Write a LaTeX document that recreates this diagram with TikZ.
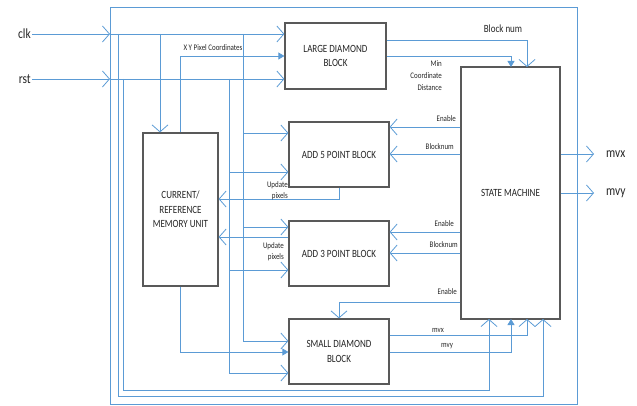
\documentclass[tikz,border=0pt]{standalone}
\usepackage{fontspec}
\setmainfont[FakeStretch=0.82]{Carlito}
\usetikzlibrary{arrows.meta}
\definecolor{wireblue}{HTML}{5B9BD5}
\definecolor{boxgrey}{HTML}{595959}
\definecolor{inkgrey}{HTML}{262626}
\tikzset{
  blockbox/.style={draw=boxgrey, line width=1.2pt, fill=white, align=center,
    text=inkgrey, font=\fontsize{11}{14.5}\selectfont, inner sep=0pt},
  wire/.style={draw=wireblue, line width=0.8pt},
  opentip/.style={wire, -{Straight Barb[length=7pt,width=16pt,line width=0.8pt]}},
  solidtip/.style={wire, -{Triangle[length=6pt,width=7pt]}},
  smalllbl/.style={text=inkgrey, font=\fontsize{8.5}{12}\selectfont, inner sep=0pt},
  iolbl/.style={text=inkgrey, font=\fontsize{14}{16}\selectfont, inner sep=1pt}
}
\begin{document}
\begin{tikzpicture}[x=1pt,y=-1pt]
\useasboundingbox (0,0) rectangle (637,406);

% enclosing frame of the design
\draw[wire] (110,7) rectangle (577,404);

% functional blocks
\node[blockbox, minimum width=101pt, minimum height=66pt] (ldb) at (335.5,56) {LARGE DIAMOND\\BLOCK};
\node[blockbox, minimum width=75pt, minimum height=153pt] (mem) at (180.5,209.5) {CURRENT/\\REFERENCE\\MEMORY UNIT};
\node[blockbox, minimum width=100pt, minimum height=65pt] (add5) at (339,154.5) {ADD 5 POINT BLOCK};
\node[blockbox, minimum width=100pt, minimum height=65pt] (add3) at (339,253.5) {ADD 3 POINT BLOCK};
\node[blockbox, minimum width=100pt, minimum height=65pt] (sdb) at (339,351.5) {SMALL DIAMOND\\BLOCK};
\node[blockbox, minimum width=99pt, minimum height=252pt] (sm) at (510.5,193) {STATE MACHINE};

% external ports
\node[iolbl, anchor=east] (clk) at (32,34) {clk};
\node[iolbl, anchor=east] (rst) at (32,79) {rst};
\node[iolbl, anchor=west] (mvxo) at (605,154) {mvx};
\node[iolbl, anchor=west] (mvyo) at (605,193) {mvy};

% junction points
\coordinate (clkF) at (110,34);
\coordinate (rstF) at (110,79);
\coordinate (c118) at (118,34);
\coordinate (r123) at (123,79);
\coordinate (c160) at (160,34);
\coordinate (r229) at (229,79);
\coordinate (c243) at (243,34);
\coordinate (smB1) at (489,319);
\coordinate (smB2) at (511,319);
\coordinate (smB3) at (527,319);
\coordinate (smB4) at (543,319);
\coordinate (smT1) at (511,67);
\coordinate (smT2) at (527,67);
\coordinate (mvxE) at (594,154);
\coordinate (mvyE) at (594,193);

% clock and reset distribution
\draw[opentip] (clk.east) -- (clkF);
\draw[opentip] (rst.east) -- (rstF);
\draw[opentip] (clkF) -- (ldb.west |- clkF);
\draw[opentip] (rstF) -- (ldb.west |- rstF);
\draw[opentip] (c160) -- (c160 |- mem.north);
\draw[opentip] (c243) |- (sdb.west |- 0,341);
\draw[opentip] (243,133) -- (add5.west |- 0,133);
\draw[opentip] (243,227) -- (add3.west |- 0,227);
\draw[opentip] (r229) |- (sdb.west |- 0,373);
\draw[opentip] (229,172) -- (add5.west |- 0,172);
\draw[opentip] (229,270) -- (add3.west |- 0,270);
\draw[opentip] (c118) -- (118,396) -| (smB4);
\draw[opentip] (r123) -- (123,390) -| (smB1);

% data paths
\draw[solidtip] (mem.north) |- (ldb.west);
\node[smalllbl] (xylbl) at (213,48) {X Y Pixel Coordinates};
\draw[opentip] (add5.south) |- (mem.east |- 0,199);
\draw[opentip] (add3.west |- 0,237) -- (mem.east |- 0,237);
\node[smalllbl, align=right, anchor=east, font=\fontsize{8.5}{11}\selectfont] (up5) at (288,191) {Update\\pixels};
\node[smalllbl, align=right, anchor=east, font=\fontsize{8.5}{11}\selectfont] (up3) at (284,252) {Update\\pixels};
\draw[solidtip] (mem.south) |- (sdb.west |- 0,352);

% large diamond block to state machine
\draw[opentip] (ldb.east |- 0,40) -| (smT2);
\draw[solidtip] (ldb.east) -| (smT1);
\node[text=inkgrey, font=\fontsize{11}{12}\selectfont, inner sep=0pt] (bnlbl) at (503,29) {Block num};
\node[smalllbl, align=right, anchor=east] (mcdlbl) at (442,76) {Min\\Coordinate\\Distance};

% state machine control lines
\draw[opentip] (sm.west |- 0,127) -- (add5.east |- 0,127);
\draw[opentip] (sm.west |- 0,154) -- (add5.east |- 0,154);
\draw[opentip] (sm.west |- 0,232) -- (add3.east |- 0,232);
\draw[opentip] (sm.west |- 0,253) -- (add3.east |- 0,253);
\draw[opentip] (sm.west |- 0,302) -| (sdb.north);
\node[smalllbl, anchor=east] (en5) at (456,119) {Enable};
\node[smalllbl, anchor=east] (bn5) at (454,147) {Blocknum};
\node[smalllbl, anchor=east] (en3) at (454,224) {Enable};
\node[smalllbl, anchor=east] (bn3) at (458,245) {Blocknum};
\node[smalllbl, anchor=east] (ens) at (457,292) {Enable};

% small diamond block results
\draw[opentip] (sdb.east |- 0,335) -| (smB3);
\draw[solidtip] (sdb.east |- 0,352) -| (smB2);
\node[smalllbl] (mvxl) at (438,330) {mvx};
\node[smalllbl] (mvyl) at (447,346) {mvy};

% outputs
\draw[opentip] (sm.east |- mvxE) -- (mvxE);
\draw[opentip] (sm.east |- mvyE) -- (mvyE);
\end{tikzpicture}
\end{document}
